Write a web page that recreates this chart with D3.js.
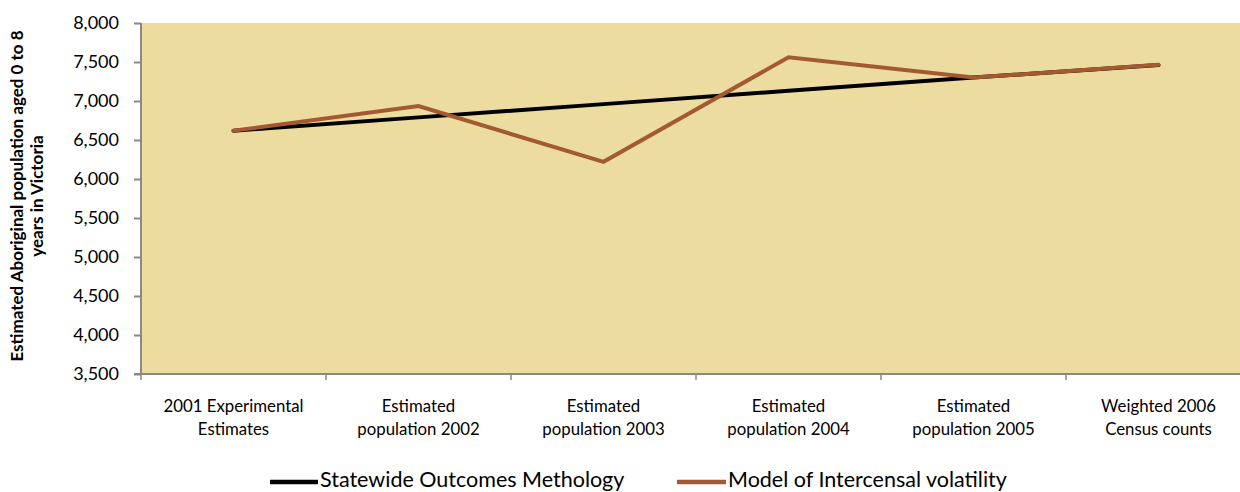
<!DOCTYPE html>
<html><head><meta charset="utf-8">
<script src="https://cdn.jsdelivr.net/npm/d3@7"></script>
<style>body{margin:0;background:#fff;overflow:hidden}svg{display:block}</style>
</head><body>
<svg id="c" width="1240" height="492"></svg>
<script>
const categories = [["2001 Experimental","Estimates"],["Estimated","population 2002"],["Estimated","population 2003"],["Estimated","population 2004"],["Estimated","population 2005"],["Weighted 2006","Census counts"]];
const statewide = [6620, 6790, 6960, 7130, 7300, 7460];
const intercensal = [6620, 6935, 6220, 7560, 7300, 7465];
const yTicks = [3500,4000,4500,5000,5500,6000,6500,7000,7500,8000];
const seriesNames = ["Statewide Outcomes Methology","Model of Intercensal volatility"];
const seriesColors = ["#000000","#a35a30"];

const svg = d3.select("#c");
const L = 141, R = 1251, T = 23, B = 374;
const x = d3.scaleBand().domain(d3.range(categories.length)).range([L, R]);
const y = d3.scaleLinear().domain([3500, 8000]).range([B, T]);
const font = "Lato, Open Sans, sans-serif";

svg.append("rect").attr("x", L).attr("y", T).attr("width", R - L).attr("height", B - T).attr("fill", "#ecdca0");

const ya = svg.append("g").attr("transform", `translate(${L},0)`)
  .call(d3.axisLeft(y).tickValues(yTicks).tickFormat(d3.format(",")).tickSize(7).tickPadding(15));
ya.selectAll("text").attr("font-family", font).attr("font-size", 18).attr("fill", "#000");
ya.selectAll("line,path").attr("stroke", "#888").attr("stroke-width", 2);
ya.select("path").attr("d", `M0,${T}V${B}`);

const xa = svg.append("g").attr("transform", `translate(0,${B})`);
xa.append("line").attr("x1", L - 7).attr("x2", R).attr("stroke", "#888").attr("stroke-width", 2);
const bounds = d3.range(categories.length + 1).map(i => i < categories.length ? x(i) : x.range()[1]);
xa.selectAll(".tk").data(bounds).join("line").attr("x1", d => d).attr("x2", d => d).attr("y1", 0).attr("y2", 6).attr("stroke", "#888").attr("stroke-width", 1.5);
categories.forEach((c, i) => {
  const t = xa.append("text").attr("text-anchor", "middle").attr("font-family", font).attr("font-size", 16.8).attr("fill", "#000");
  c.forEach((ln, j) => t.append("tspan").attr("x", x(i) + x.bandwidth() / 2).attr("y", 38 + j * 23).text(ln));
});

const line = d3.line().x((d, i) => x(i) + x.bandwidth() / 2).y(d => y(d));
[statewide, intercensal].forEach((s, k) => {
  svg.append("path").datum(s).attr("d", line).attr("fill", "none").attr("stroke", seriesColors[k])
    .attr("stroke-width", 4).attr("stroke-linecap", "round").attr("stroke-linejoin", "miter");
});

const yt = svg.append("text").attr("transform", "translate(0,196) rotate(-90)").attr("text-anchor", "middle")
  .attr("font-family", font).attr("font-weight", "bold").attr("font-size", 17).attr("fill", "#000");
yt.append("tspan").attr("x", 0).attr("y", 23).text("Estimated Aboriginal population aged 0 to 8");
yt.append("tspan").attr("x", 0).attr("y", 43).text("years in Victoria");

const lg = [[270, 320], [677, 728]];
seriesNames.forEach((n, k) => {
  svg.append("line").attr("x1", lg[k][0]).attr("x2", lg[k][1] - 2).attr("y1", 482).attr("y2", 482)
    .attr("stroke", seriesColors[k]).attr("stroke-width", 4.5);
  svg.append("text").attr("x", lg[k][1]).attr("y", 487).attr("font-family", font).attr("font-size", 21.5).attr("fill", "#000").text(n);
});
</script>
</body></html>
